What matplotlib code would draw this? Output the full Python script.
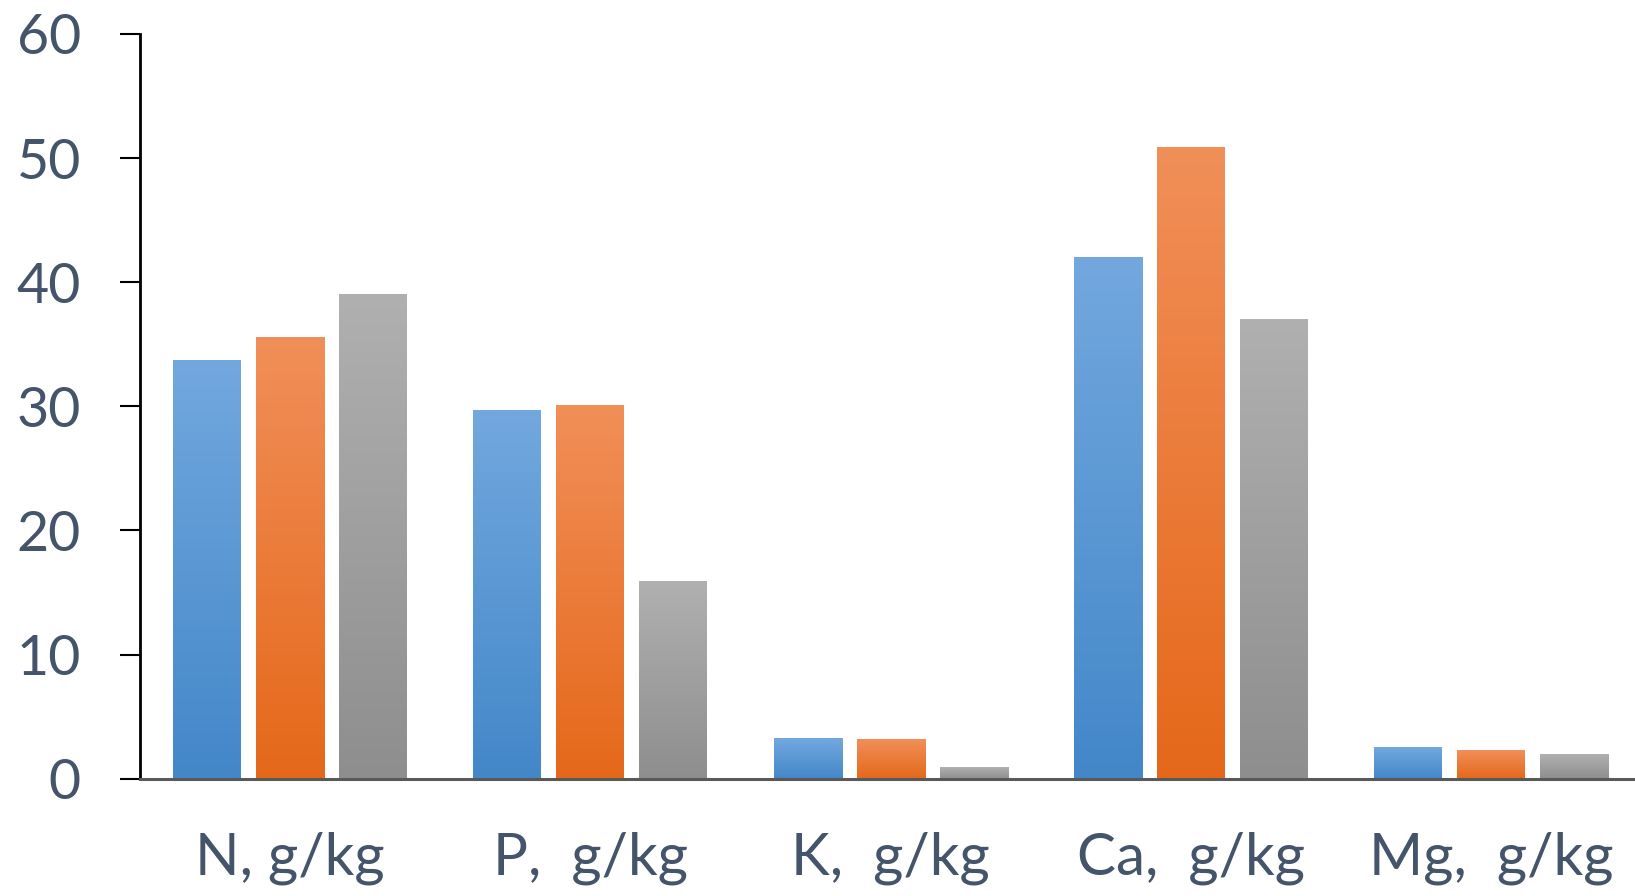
import numpy as np
import matplotlib
matplotlib.use("Agg")
import matplotlib.pyplot as plt
from matplotlib.colors import LinearSegmentedColormap

categories = ["N, g/kg", "P,  g/kg", "K,  g/kg", "Ca,  g/kg", "Mg,  g/kg"]
series_a = [33.7, 29.7, 3.3, 42.0, 2.5]
series_b = [35.6, 30.1, 3.2, 50.9, 2.3]
series_c = [39.0, 15.9, 0.95, 37.0, 2.0]
y_ticks = [0, 10, 20, 30, 40, 50, 60]

gradients = [
    ("#72A8DE", "#4387C9"),
    ("#F18F59", "#E5681A"),
    ("#B0B0B0", "#8E8E8E"),
]

W, H = 1635, 896
fig = plt.figure(figsize=(W / 100, H / 100), dpi=100)
left = 140 / W
right_px = 1641.5
bottom = 1 - 778.7 / H
top = 1 - 34 / H
ax = fig.add_axes([left, bottom, (right_px - 140) / W, top - bottom])

n = len(categories)
ax.set_xlim(0, n)
ax.set_ylim(0, 60)

bar_w = 68 / 300.3
gap = 15 / 300.3
offsets = [-(bar_w + gap), 0, (bar_w + gap)]
grad = np.linspace(1, 0, 256).reshape(-1, 1)
for s, vals in enumerate([series_a, series_b, series_c]):
    cmap = LinearSegmentedColormap.from_list("g%d" % s, [gradients[s][1], gradients[s][0]])
    for i, v in enumerate(vals):
        cx = i + 0.5 + offsets[s]
        ax.imshow(grad, cmap=cmap, vmin=0, vmax=1, aspect="auto",
                  extent=[cx - bar_w / 2, cx + bar_w / 2, 0, v],
                  interpolation="bilinear", zorder=2)
ax.set_xlim(0, n)
ax.set_ylim(0, 60)

for sp in ["top", "right"]:
    ax.spines[sp].set_visible(False)
ax.spines["left"].set_color("black")
ax.spines["left"].set_linewidth(2.0)
ax.spines["bottom"].set_color("#595959")
ax.spines["bottom"].set_linewidth(2.2)
ax.spines["bottom"].set_zorder(5)

label_color = "#44546A"
ax.set_yticks(y_ticks)
ax.set_yticklabels([str(t) for t in y_ticks], fontsize=40, color=label_color, family="Lato")
ax.tick_params(axis="y", length=14.5, width=1.5, color="black", pad=28)

ax.set_xticks([i + 0.5 for i in range(n)])
ax.set_xticklabels(categories, fontsize=42, color=label_color, family="Lato")
ax.tick_params(axis="x", length=0, pad=38)

fig.savefig("out.png", dpi=100)
